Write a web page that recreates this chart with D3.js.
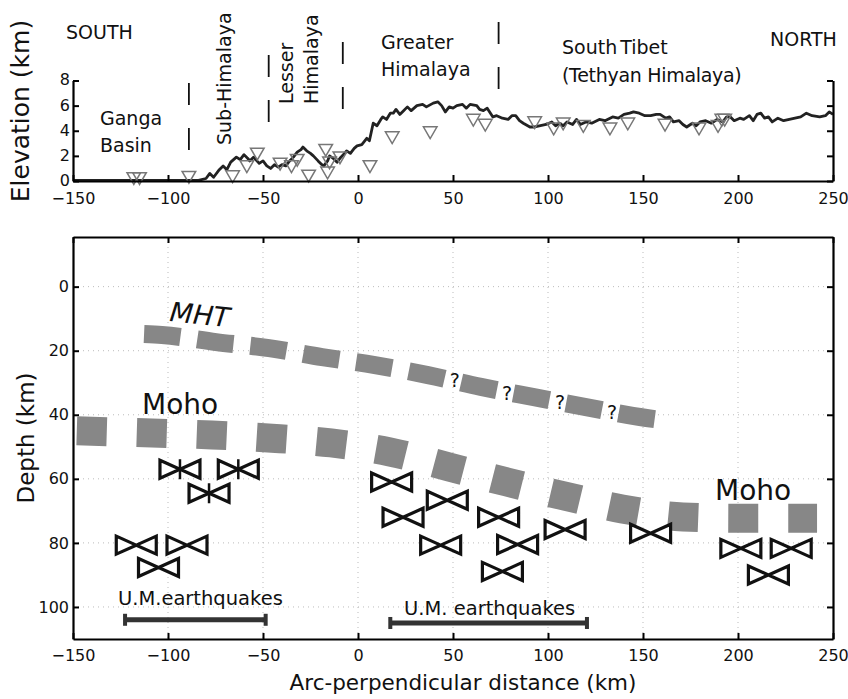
<!doctype html>
<html lang="en">
<head>
<meta charset="utf-8">
<title>Himalaya profile</title>
<script src="https://cdn.jsdelivr.net/npm/d3@7"></script>
<style>
body { margin: 0; background: #fff; }
text { font-family: "DejaVu Sans", sans-serif; fill: #111; }
</style>
</head>
<body>
<script>

// ---- data ----
var xTicks = [-150, -100, -50, 0, 50, 100, 150, 200, 250];
var elevTicks = [0, 2, 4, 6, 8];
var depthTicks = [0, 20, 40, 60, 80, 100];

// topography profile (km along profile, km elevation)
var profileX = [-150, -140, -130, -120, -110, -100, -90, -84, -80, -78, -76, -73, -71, -69, -67, -64, -62, -60, -58, -57,
  -55, -52, -50, -48, -46, -44, -42, -40, -38, -36, -34, -32, -30, -29, -27, -25, -23.5, -21, -19, -18,
  -16, -15, -13, -11, -9, -7, -6, -4, -2, -0.5, 2, 4.6, 6, 7, 8, 10, 12, 13, 15, 17,
  18.6, 20, 22, 24, 26, 28, 31, 34, 36, 39.6, 42, 44, 46, 48, 50, 52, 55, 57, 59, 62.5,
  64, 66, 68, 71, 73, 76, 79, 81, 83, 85, 87, 90.5, 93, 96, 99, 102, 104, 106, 108, 110,
  113, 115, 117, 120, 123, 127, 130, 134, 137, 140, 143, 145, 148, 151, 154, 157, 159, 162, 164, 166,
  169, 171, 173, 176, 178, 180, 183, 186, 189, 192, 194, 196, 198, 201, 203, 206, 208, 210, 212, 214,
  216, 218, 221, 224, 227, 230, 233, 236, 239, 243, 246, 248, 250];
var profileElev = [0.05, 0.05, 0.05, 0.05, 0.05, 0.05, 0.05, 0.05, 0.2, 0.6, 0.3, 0.9, 1.2, 0.9, 1.5, 1.9, 1.7, 2.1, 1.8, 1.6,
  1.9, 1.4, 1.6, 1.2, 1.0, 1.3, 1.1, 1.3, 1.2, 1.6, 1.9, 2.3, 2.5, 2.7, 2.4, 2.2, 2.0, 1.6, 1.3, 1.2,
  1.6, 2.0, 1.8, 1.5, 1.9, 2.2, 2.4, 2.2, 2.6, 2.8, 2.9, 3.4, 3.2, 3.9, 4.6, 4.4, 4.9, 5.1, 4.9, 5.4,
  5.4, 5.7, 5.3, 5.6, 5.9, 5.6, 6.0, 6.1, 5.9, 6.2, 6.3, 6.0, 5.5, 5.9, 5.8, 6.0, 6.1, 5.8, 6.1, 6.0,
  5.7, 5.6, 5.8, 5.1, 5.2, 5.0, 4.9, 5.2, 5.2, 4.8, 4.6, 4.3, 4.3, 4.4, 4.5, 4.7, 4.4, 4.6, 4.4, 4.7,
  4.5, 4.9, 4.5, 4.7, 4.6, 4.9, 4.8, 5.1, 5.0, 5.3, 5.4, 5.5, 5.4, 5.2, 5.2, 5.3, 5.3, 5.0, 5.1, 4.7,
  4.8, 4.5, 4.3, 4.6, 4.4, 4.7, 4.8, 4.6, 4.9, 4.7, 5.1, 5.1, 4.8, 5.0, 4.9, 5.2, 4.8, 5.3, 5.4, 5.0,
  5.1, 4.7, 5.0, 4.8, 4.9, 5.0, 5.1, 5.4, 5.2, 5.1, 5.2, 5.5, 5.3];

// seismic stations
var stationX = [-118, -115, -89, -66, -58.5, -53, -41, -35, -32, -26, -17, -16, -15, -9.5, 6.3, 18, 38, 60.7, 67, 93,
  103, 108, 118.6, 132.6, 142, 161.6, 179.5, 189.5, 191.5, 193];
var stationElev = [0.35, 0.35, 0.45, 0.5, 1.3, 2.3, 1.5, 1.3, 1.8, 0.55, 2.6, 0.8, 1.6, 2.0, 1.3, 3.6, 4.0, 5.0, 4.6, 4.8,
  4.3, 4.7, 4.5, 4.3, 4.7, 4.6, 4.3, 4.5, 5.0, 5.0];

// tectonic unit boundaries
var boundaryX = [-89, -47, -8, 74];

// Main Himalayan Thrust
var mhtX = [-112.6, -103.2, -74.7, -46.8, -18.9, 8.9, 36.8, 64.7, 92.6, 120, 148.4, 158];
var mhtDepth = [14.8, 15.1, 17.3, 19.2, 22, 24.5, 27.6, 31.3, 34.5, 37.6, 40.7, 41.5];
var questionX = [51, 78.4, 106.3, 133.7];
var questionDepth = [29.2, 33.2, 36, 39.2];

// Moho
var mohoX = [-148, -108.4, -76.8, -45.3, -14.2, 16.8, 47.9, 78.4, 108.9, 139, 171, 202, 241.6];
var mohoDepth = [45, 45.7, 46.3, 47.3, 48.8, 51.6, 56.3, 61, 65.4, 69.4, 71.9, 72.3, 72.3];

// upper-mantle earthquakes (focal mechanisms)
var quakeX = [-93.7, -63, -78.4, -116.7, -90, -105, 17.7, 23.7, 47, 43.5, 74, 84, 76, 109, 154, 201.5, 228, 216];
var quakeDepth = [57, 57, 64.5, 80.7, 80.7, 87.7, 61, 72, 66.7, 80.7, 72, 80.5, 88.9, 75.8, 77, 81.7, 81.7, 90];
var quakeStrikeSlip = [1, 1, 1, 0, 0, 0, 0, 0, 0, 0, 0, 0, 0, 0, 0, 0, 0, 0];

// U.M. earthquake ranges
var umStart = [-122.6, 17];
var umEnd = [-48.6, 120.5];
var umDepth = [104, 105];
var umLabels = ["U.M.earthquakes", "U.M. earthquakes"];

// ---- layout ----
var W = 848, H = 699;
var plotLeft = 73, plotRight = 833;

var svg = d3.select("body").append("svg")
  .attr("width", W)
  .attr("height", H);

var x = d3.scaleLinear().domain([-150, 250]).range([plotLeft, plotRight]);
var ye = d3.scaleLinear().domain([0, 8]).range([181, 80.5]);
var yd = d3.scaleLinear().domain([-15.5, 110]).range([237, 639]);

function styleAxis(g, size) {
  g.attr("font-family", "DejaVu Sans, sans-serif").attr("font-size", size);
  g.selectAll("path.domain").attr("stroke", "#000").attr("stroke-width", 2.2);
  g.selectAll(".tick line").attr("stroke", "#000").attr("stroke-width", 2);
  g.selectAll(".tick text").attr("fill", "#111");
}

function label(g, txt, tx, ty, size, rot) {
  var t = g.append("text").attr("font-size", size).text(txt);
  if (rot) t.attr("transform", "translate(" + tx + "," + ty + ") rotate(" + rot + ")");
  else t.attr("x", tx).attr("y", ty);
  return t;
}

// ===== top panel =====
var topPanel = svg.append("g");

topPanel.append("path")
  .datum(d3.range(profileX.length))
  .attr("fill", "none")
  .attr("stroke", "#222")
  .attr("stroke-width", 2.8)
  .attr("stroke-linejoin", "round")
  .attr("d", d3.line()
    .x(function(i) { return x(profileX[i]); })
    .y(function(i) { return ye(profileElev[i]); }));

topPanel.selectAll(".station")
  .data(d3.range(stationX.length))
  .enter().append("path")
  .attr("class", "station")
  .attr("d", d3.symbol().type(d3.symbolTriangle).size(80))
  .attr("transform", function(i) { return "translate(" + x(stationX[i]) + "," + ye(stationElev[i]) + ") rotate(180)"; })
  .attr("fill", "none")
  .attr("stroke", "#777")
  .attr("stroke-width", 1.5);

topPanel.append("g")
  .attr("transform", "translate(0," + ye(0) + ")")
  .call(d3.axisBottom(x).tickValues(xTicks).tickSize(-6).tickSizeOuter(0).tickPadding(12))
  .call(styleAxis, 16);

topPanel.append("g")
  .attr("transform", "translate(" + plotLeft + ",0)")
  .call(d3.axisLeft(ye).tickValues(elevTicks).tickSize(-6).tickSizeOuter(0).tickPadding(3))
  .call(styleAxis, 16)
  .selectAll(".tick text").attr("dy", "0.28em");

topPanel.append("g")
  .attr("transform", "translate(" + plotRight + ",0)")
  .call(d3.axisRight(ye).tickValues(elevTicks).tickSize(-6).tickSizeOuter(0).tickFormat(""))
  .call(styleAxis, 16);

topPanel.append("text")
  .attr("transform", "translate(29,111) rotate(-90)")
  .attr("text-anchor", "middle")
  .attr("font-size", 25)
  .text("Elevation (km)");

// boundaries between units
var boundaryTop = [83, 55, 42, 22];
topPanel.selectAll(".boundary")
  .data(d3.range(boundaryX.length))
  .enter().append("line")
  .attr("x1", function(i) { return x(boundaryX[i]); })
  .attr("x2", function(i) { return x(boundaryX[i]); })
  .attr("y1", function(i) { return boundaryTop[i]; })
  .attr("y2", function(i) { return boundaryTop[i] + 68; })
  .attr("stroke", "#111")
  .attr("stroke-width", 1.8)
  .attr("stroke-dasharray", "22 23");

label(topPanel, "SOUTH", 66, 39, 19);
label(topPanel, "NORTH", 770, 46, 19);
label(topPanel, "Ganga", 100, 125, 19);
label(topPanel, "Basin", 100, 152, 19);
label(topPanel, "Sub-Himalaya", 231, 145, 19, -90);
label(topPanel, "Lesser", 293, 104, 19, -90);
label(topPanel, "Himalaya", 318, 104, 19, -90);
label(topPanel, "Greater", 381, 49, 19);
label(topPanel, "Himalaya", 381, 76, 19);
label(topPanel, "South Tibet", 562, 54, 19).attr("word-spacing", -3);
label(topPanel, "(Tethyan Himalaya)", 562, 82, 19).attr("letter-spacing", -0.3);

// ===== bottom panel =====
var bot = svg.append("g");

// dotted grid
bot.selectAll(".vgrid")
  .data(xTicks.slice(1, -1))
  .enter().append("line")
  .attr("x1", function(d) { return x(d); })
  .attr("x2", function(d) { return x(d); })
  .attr("y1", yd(-15.5))
  .attr("y2", yd(110))
  .attr("stroke", "#bbb")
  .attr("stroke-width", 1)
  .attr("stroke-dasharray", "1 4");

bot.selectAll(".hgrid")
  .data(depthTicks)
  .enter().append("line")
  .attr("x1", plotLeft)
  .attr("x2", plotRight)
  .attr("y1", function(d) { return yd(d); })
  .attr("y2", function(d) { return yd(d); })
  .attr("stroke", "#bbb")
  .attr("stroke-width", 1)
  .attr("stroke-dasharray", "1 4");

bot.append("g")
  .attr("transform", "translate(0," + yd(110) + ")")
  .call(d3.axisBottom(x).tickValues(xTicks).tickSize(-6).tickSizeOuter(0).tickPadding(11))
  .call(styleAxis, 16);

bot.append("g")
  .attr("transform", "translate(0," + yd(-15.5) + ")")
  .call(d3.axisTop(x).tickValues(xTicks).tickSize(-6).tickSizeOuter(0).tickFormat(""))
  .call(styleAxis, 16);

bot.append("g")
  .attr("transform", "translate(" + plotLeft + ",0)")
  .call(d3.axisLeft(yd).tickValues(depthTicks).tickSize(-6).tickSizeOuter(0).tickPadding(4))
  .call(styleAxis, 16);

bot.append("g")
  .attr("transform", "translate(" + plotRight + ",0)")
  .call(d3.axisRight(yd).tickValues(depthTicks).tickSize(-6).tickSizeOuter(0).tickFormat(""))
  .call(styleAxis, 16);

bot.append("text")
  .attr("transform", "translate(34,438) rotate(-90)")
  .attr("text-anchor", "middle")
  .attr("font-size", 23)
  .text("Depth (km)");

bot.append("text")
  .attr("x", 463)
  .attr("y", 690)
  .attr("text-anchor", "middle")
  .attr("font-size", 21.5)
  .text("Arc-perpendicular distance (km)");

// MHT and Moho as thick dashed grey lines
var line = d3.line().curve(d3.curveMonotoneX);

bot.append("path")
  .attr("d", line(mhtX.map(function(d, i) { return [x(d), yd(mhtDepth[i])]; })))
  .attr("fill", "none")
  .attr("stroke", "#878787")
  .attr("stroke-width", 18)
  .attr("stroke-dasharray", "36.5 17");

bot.append("path")
  .attr("d", line(mohoX.map(function(d, i) { return [x(d), yd(mohoDepth[i])]; })))
  .attr("fill", "none")
  .attr("stroke", "#878787")
  .attr("stroke-width", 29)
  .attr("stroke-dasharray", "30 30");

bot.selectAll(".q")
  .data(d3.range(questionX.length))
  .enter().append("text")
  .attr("x", function(i) { return x(questionX[i]); })
  .attr("y", function(i) { return yd(questionDepth[i]) + 7; })
  .attr("text-anchor", "middle")
  .attr("font-size", 19)
  .text("?");

label(bot, "MHT", 169, 321, 27, 6).attr("font-style", "italic");
label(bot, "Moho", 142, 414, 28);
label(bot, "Moho", 715, 500, 28);

// bow-tie focal mechanisms
var bw = 40, bh = 18;
var bowtie = "M" + (-bw / 2) + "," + (-bh / 2) + "L0,0L" + (-bw / 2) + "," + (bh / 2) + "Z" +
  "M" + (bw / 2) + "," + (-bh / 2) + "L0,0L" + (bw / 2) + "," + (bh / 2) + "Z";

var quakes = bot.selectAll(".quake")
  .data(d3.range(quakeX.length))
  .enter().append("g")
  .attr("transform", function(i) { return "translate(" + x(quakeX[i]) + "," + yd(quakeDepth[i]) + ")"; });

quakes.append("path")
  .attr("d", bowtie)
  .attr("fill", "#fff")
  .attr("stroke", "#111")
  .attr("stroke-width", 3.2)
  .attr("stroke-linejoin", "miter");

quakes.filter(function(i) { return quakeStrikeSlip[i]; })
  .append("line")
  .attr("y1", -bh / 2 - 1)
  .attr("y2", bh / 2 + 1)
  .attr("stroke", "#111")
  .attr("stroke-width", 2.5);

// U.M. earthquake ranges
var um = bot.selectAll(".um")
  .data(d3.range(umStart.length))
  .enter().append("g");

um.append("line")
  .attr("x1", function(i) { return x(umStart[i]); })
  .attr("x2", function(i) { return x(umEnd[i]); })
  .attr("y1", function(i) { return yd(umDepth[i]); })
  .attr("y2", function(i) { return yd(umDepth[i]); })
  .attr("stroke", "#333")
  .attr("stroke-width", 5);

um.selectAll("rect")
  .data(function(i) { return [[umStart[i], umDepth[i]], [umEnd[i], umDepth[i]]]; })
  .enter().append("rect")
  .attr("x", function(d) { return x(d[0]) - 2; })
  .attr("y", function(d) { return yd(d[1]) - 6; })
  .attr("width", 4)
  .attr("height", 12)
  .attr("fill", "#333");

um.append("text")
  .attr("x", function(i) { return (x(umStart[i]) + x(umEnd[i])) / 2 + (i ? 1 : 5); })
  .attr("y", function(i) { return yd(umDepth[i]) - 15 + (i ? 7 : 0); })
  .attr("text-anchor", "middle")
  .attr("font-size", 19.5)
  .text(function(i) { return umLabels[i]; });

</script>
</body>
</html>
